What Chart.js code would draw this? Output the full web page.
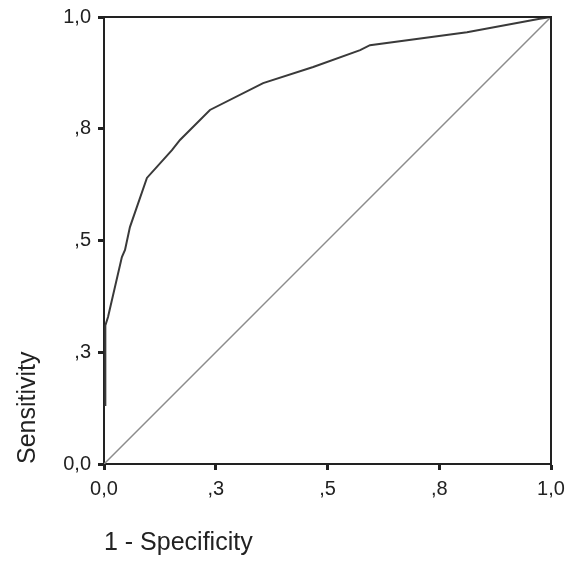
<!DOCTYPE html>
<html>
<head>
<meta charset="utf-8">
<script src="https://cdn.jsdelivr.net/npm/chart.js@4/dist/chart.umd.min.js"></script>
<style>
  html, body { margin: 0; padding: 0; background: #fff; }
  #wrap { width: 566px; height: 562px; }
</style>
</head>
<body>
<div id="wrap"><canvas id="c" width="566" height="562"></canvas></div>
<script>
// ROC curve values
const rocX = [0.003, 0.003, 0.009, 0.040, 0.047, 0.058, 0.096, 0.152, 0.170, 0.237, 0.356, 0.468, 0.573, 0.595, 0.812, 0.975, 1.000];
const rocY = [0.130, 0.310, 0.329, 0.463, 0.479, 0.530, 0.640, 0.702, 0.725, 0.792, 0.852, 0.888, 0.926, 0.937, 0.966, 0.996, 1.000];
// Reference (chance) line
const refX = [0, 1];
const refY = [0, 1];
// Axis ticks (SPSS-style labels)
const tickValues = [0, 0.25, 0.5, 0.75, 1];
const tickLabels = ["0,0", ",3", ",5", ",8", "1,0"];
const xTitle = "1 - Specificity";
const yTitle = "Sensitivity";

const FONT = "'Liberation Sans', Arial, Helvetica, sans-serif";
const INK = "#222";

const framePlugin = {
  id: 'frame',
  afterDatasetsDraw(chart) {
    const {ctx, chartArea: a} = chart;
    ctx.save();
    ctx.strokeStyle = INK;
    ctx.lineWidth = 2;
    ctx.beginPath();
    ctx.moveTo(a.left, a.top);
    ctx.lineTo(a.right, a.top);
    ctx.lineTo(a.right, a.bottom);
    ctx.stroke();
    ctx.restore();
  }
};

function axis(pos, title, fitFn, titlePad) {
  return {
    type: 'linear',
    position: pos,
    min: 0,
    max: 1,
    afterBuildTicks: s => { s.ticks = tickValues.map(v => ({value: v})); },
    afterFit: s => {
      fitFn(s);
      s.paddingLeft = 0; s.paddingRight = 0; s.paddingTop = 0; s.paddingBottom = 0;
    },
    ticks: {
      autoSkip: false,
      maxRotation: 0,
      padding: 7,
      color: INK,
      font: {family: FONT, size: 20},
      callback: (v, i) => tickLabels[i]
    },
    grid: {
      drawOnChartArea: false,
      drawTicks: true,
      tickLength: 6,
      tickWidth: 3,
      tickColor: INK
    },
    border: {display: true, color: INK, width: 2},
    title: {
      display: true,
      text: title,
      align: 'start',
      color: INK,
      font: {family: FONT, size: 25},
      padding: titlePad
    }
  };
}

new Chart(document.getElementById('c'), {
  type: 'scatter',
  data: {
    datasets: [
      {
        data: refX.map((x, i) => ({x, y: refY[i]})),
        showLine: true,
        borderColor: '#8c8c8c',
        borderWidth: 1.5,
        pointRadius: 0
      },
      {
        data: rocX.map((x, i) => ({x, y: rocY[i]})),
        showLine: true,
        borderColor: '#3a3a3a',
        borderWidth: 2,
        pointRadius: 0
      }
    ]
  },
  options: {
    responsive: false,
    animation: false,
    layout: {padding: {left: 0, top: 17, right: 15, bottom: 0}},
    plugins: {legend: {display: false}, tooltip: {enabled: false}},
    scales: {
      x: axis('bottom', xTitle, s => { s.height = 98; }, {top: 0, bottom: 4}),
      y: axis('left', yTitle, s => { s.width = 104; }, {top: 13, bottom: 0})
    }
  },
  plugins: [framePlugin]
});
</script>
</body>
</html>
